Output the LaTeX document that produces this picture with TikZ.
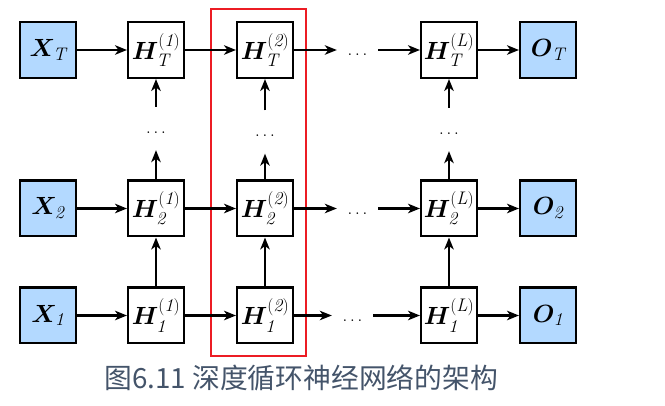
\documentclass[tikz,border=0pt]{standalone}
\usepackage{amsmath,bm}
\usepackage{fontspec}
\newfontfamily\cjk{Noto Sans CJK SC}
\usetikzlibrary{arrows.meta}
\definecolor{boxblue}{HTML}{B3D9FF}
\definecolor{capgray}{HTML}{44546A}
\definecolor{hlred}{HTML}{EC1C24}
\begin{document}
\begin{tikzpicture}[x=1pt,y=-1pt,
  box/.style={draw,line width=2.4pt,minimum size=55.6pt,inner sep=0pt,font=\fontsize{26}{30}\selectfont},
  inbox/.style={box,fill=boxblue},
  arr/.style={line width=2.1pt,-{Stealth[length=12pt,width=9.5pt,inset=3.5pt]}},
  hdots/.style={minimum width=41pt,inner sep=0pt,text height=12pt,text depth=0pt,font=\fontsize{18}{22}\selectfont},
  vdots/.style={minimum height=43pt,inner sep=0pt,text height=10pt,text depth=0pt,font=\fontsize{18}{22}\selectfont},
  hlbox/.style={draw=hlred,line width=2.6pt,inner sep=0pt}]
\useasboundingbox (0,0) rectangle (665,406);
% highlight
\node[hlbox,minimum width=95pt,minimum height=347pt] (hl) at (258.5,182.5) {};
% inputs
\node[inbox] (xT) at (48,50) {$\bm{X}_{\mathit{T}}$};
\node[inbox] (x2) at (48,208.5) {$\bm{X}_{\mathit{2}}$};
\node[inbox] (x1) at (48,315.5) {$\bm{X}_{\mathit{1}}$};
% layer 1
\node[box] (h1T) at (156,50) {$\bm{H}^{\mathit{(1)}}_{\mathit{T}}$};
\node[box] (h12) at (156,208.5) {$\bm{H}^{\mathit{(1)}}_{\mathit{2}}$};
\node[box] (h11) at (156,315.5) {$\bm{H}^{\mathit{(1)}}_{\mathit{1}}$};
% layer 2
\node[box] (h2T) at (265,50) {$\bm{H}^{\mathit{(2)}}_{\mathit{T}}$};
\node[box] (h22) at (265,208.5) {$\bm{H}^{\mathit{(2)}}_{\mathit{2}}$};
\node[box] (h21) at (265,315.5) {$\bm{H}^{\mathit{(2)}}_{\mathit{1}}$};
% layer L
\node[box] (hLT) at (449,50) {$\bm{H}^{\mathit{(L)}}_{\mathit{T}}$};
\node[box] (hL2) at (449,208.5) {$\bm{H}^{\mathit{(L)}}_{\mathit{2}}$};
\node[box] (hL1) at (449,315.5) {$\bm{H}^{\mathit{(L)}}_{\mathit{1}}$};
% outputs
\node[inbox] (oT) at (548,50) {$\bm{O}_{\mathit{T}}$};
\node[inbox] (o2) at (548,208.5) {$\bm{O}_{\mathit{2}}$};
\node[inbox] (o1) at (548,315.5) {$\bm{O}_{\mathit{1}}$};
% horizontal dots
\node[hdots] (dT) at (357.5,50) {$\ldots$};
\node[hdots] (d2) at (357.5,208.5) {$\ldots$};
\node[hdots] (d1) at (352.5,315.5) {$\ldots$};
% vertical dots
\node[vdots] (v1) at (156,128.5) {$\ldots$};
\node[vdots] (v2) at (265,132) {$\ldots$};
\node[vdots] (vL) at (449,129.5) {$\ldots$};
% horizontal arrows
\foreach \r in {T,2,1}{
  \draw[arr] (x\r) -- (h1\r);
  \draw[arr] (h1\r) -- (h2\r);
  \draw[arr] (h2\r) -- (d\r);
  \draw[arr] (d\r) -- (hL\r);
  \draw[arr] (hL\r) -- (o\r);
}
% vertical arrows
\foreach \c in {1,2,L}{
  \draw[arr] (h\c1) -- (h\c2);
  \draw[arr] (h\c2) -- (v\c);
  \draw[arr] (v\c) -- (h\c T);
}
% caption
\node[anchor=west,inner sep=0pt,text=capgray,font=\cjk\fontsize{27.8}{32}\selectfont] (cap) at (104,378) {图6.11 深度循环神经网络的架构};
\end{tikzpicture}
\end{document}
